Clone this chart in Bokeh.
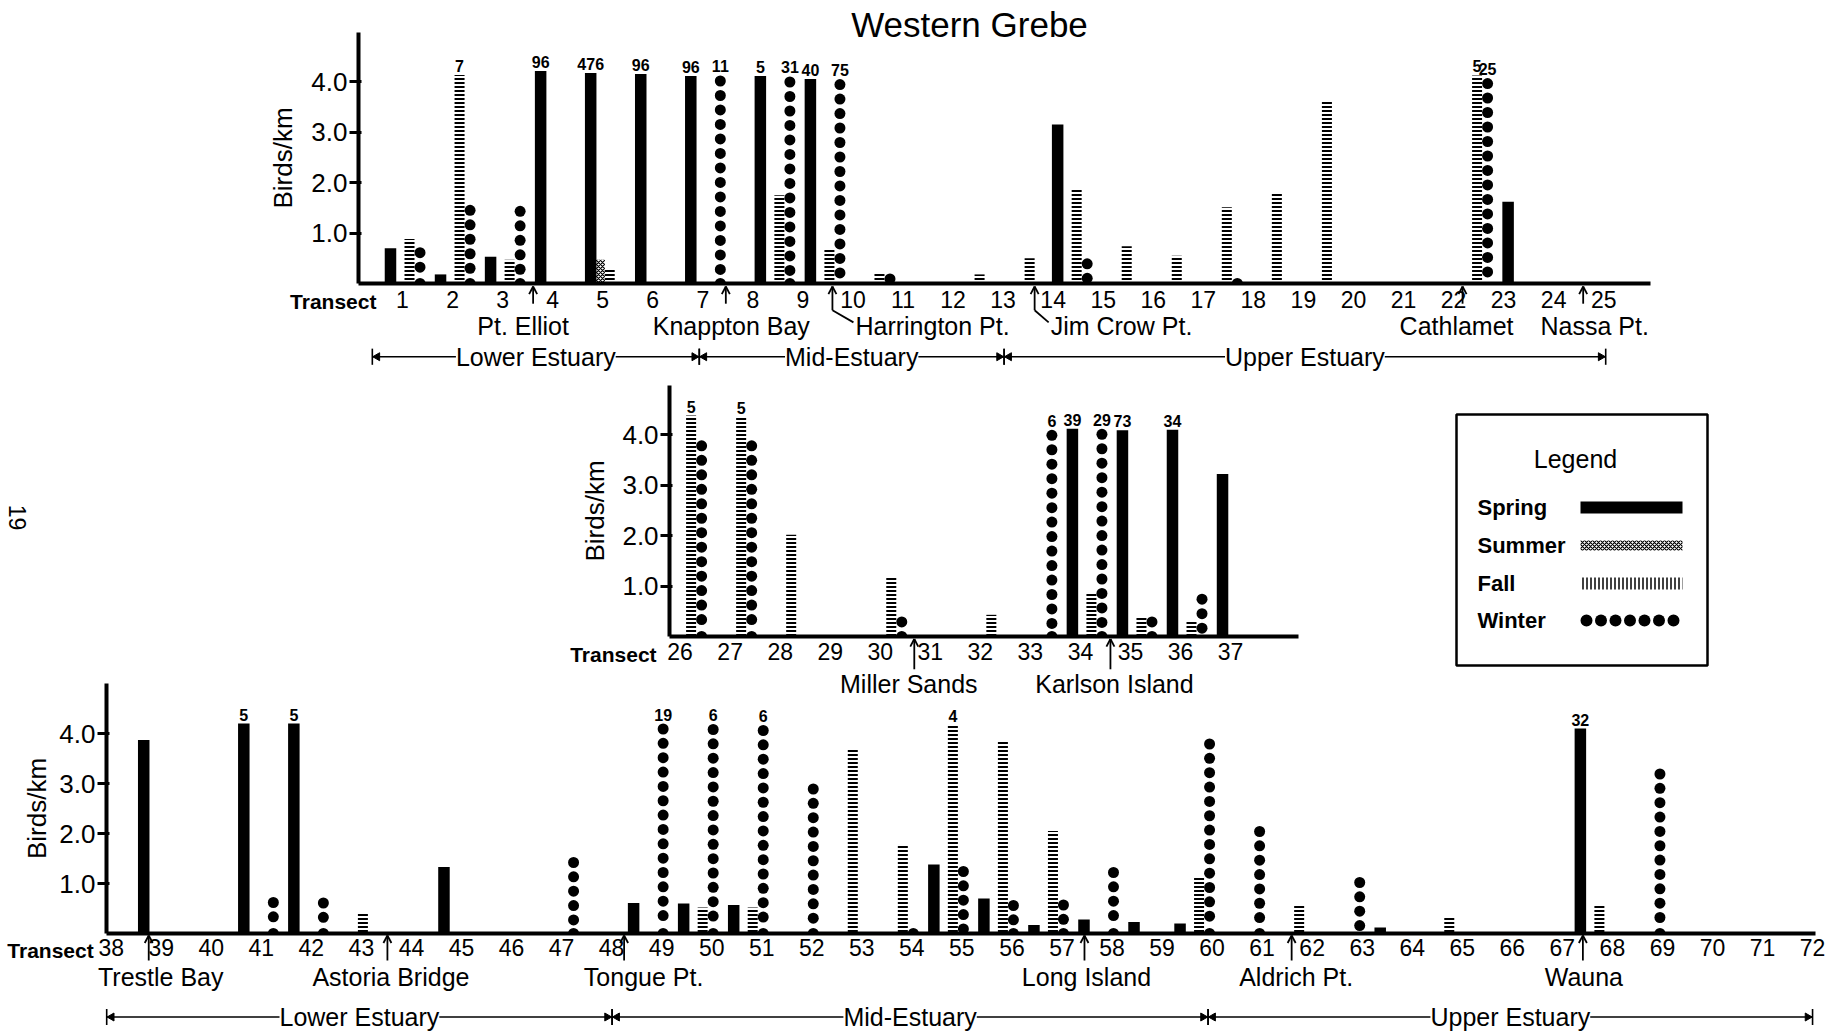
import math
from bokeh.plotting import figure
from bokeh.models import (Range1d, FixedTicker, PrintfTickFormatter, Label, LinearAxis)
from bokeh.core.properties import value
from bokeh.embed import file_html
from bokeh.resources import INLINE

W, H = 1842, 1033
FONT = "Liberation Sans"
INK = "black"

# ------------------------------------------------------------------ data
title = "Western Grebe"

top_transects = list(range(1, 26))
top_spring = [0.70, 0.18, 0.53, 4.21, 4.17, 4.15, 4.11, 4.11, 4.05, 0, 0, 0, 0, 3.15, 0, 0, 0, 0, 0, 0, 0, 0, 1.62, 0, 0]
top_summer = [0, 0, 0, 0, 0.47, 0, 0, 0, 0, 0, 0, 0, 0, 0, 0, 0, 0, 0, 0, 0, 0, 0, 0, 0, 0]
top_fall = [0.88, 4.13, 0.47, 0, 0.28, 0, 0, 1.75, 0.68, 0.22, 0, 0.18, 0.50, 1.89, 0.74, 0.55, 1.51, 1.81, 3.63, 0, 0, 4.12, 0, 0, 0]
top_winter = [0.72, 1.56, 1.54, 0, 0, 0, 4.12, 4.10, 4.05, 0.20, 0, 0, 0, 0.50, 0, 0, 0.12, 0, 0, 0, 0, 4.07, 0, 0, 0]
top_counts = [(2, "fall", "7"), (4, "spring", "96"), (5, "spring", "476"), (6, "spring", "96"),
              (7, "spring", "96"), (7, "winter", "11"), (8, "spring", "5"), (8, "winter", "31"),
              (9, "spring", "40"), (9, "winter", "75"), (22, "fall", "5"), (22, "winter", "25")]

mid_transects = list(range(26, 38))
mid_spring = [0, 0, 0, 0, 0, 0, 0, 0, 4.12, 4.09, 4.10, 3.22]
mid_summer = [0, 0, 0, 0, 0, 0, 0, 0, 0, 0, 0, 0]
mid_fall = [4.38, 4.35, 2.02, 0, 1.20, 0, 0.43, 0, 0.85, 0.40, 0.32, 0]
mid_winter = [3.89, 3.89, 0, 0, 0.40, 0, 0, 4.10, 4.12, 0.40, 0.85, 0]
mid_counts = [(26, "fall", "5"), (27, "fall", "5"), (33, "winter", "6"), (34, "spring", "39"),
              (34, "winter", "29"), (35, "spring", "73"), (36, "spring", "34")]

bot_transects = list(range(38, 73))
bot_spring = [0, 3.87, 0, 4.20, 4.20, 0, 0, 1.33, 0, 0,
              0, 0.61, 0.60, 0.57, 0, 0, 0, 1.38, 0.70, 0.17,
              0.28, 0.23, 0.20, 0, 0, 0, 0.12, 0, 0, 0,
              4.10, 0, 0, 0, 0]
bot_summer = [0] * 35
bot_fall = [0, 0, 0, 0, 0, 0.42, 0, 0, 0, 0,
            0, 0, 0.52, 0.52, 0, 3.71, 1.77, 4.17, 3.87, 2.05,
            0, 0, 1.13, 0, 0.59, 0, 0, 0.33, 0, 0,
            0.57, 0, 0, 0, 0]
bot_winter = [0, 0, 0, 0.73, 0.72, 0, 0, 0, 0, 1.53,
              0, 4.20, 4.19, 4.17, 3.00, 0, 0.13, 1.35, 0.67, 0.68,
              1.33, 0, 3.90, 2.15, 0, 1.13, 0, 0, 0, 0,
              0, 3.30, 0, 0, 0]
bot_counts = [(41, "spring", "5"), (42, "spring", "5"), (49, "winter", "19"), (50, "winter", "6"),
              (51, "winter", "6"), (55, "fall", "4"), (68, "spring", "32")]

# landmarks: (name, arrow position, label position, label alignment)
top_places = [("Pt. Elliot", 3.61, 3.41, "center"), ("Knappton Bay", 7.46, 7.57, "center"),
              ("Harrington Pt.", 9.59, 10.05, "left"), ("Jim Crow Pt.", 13.63, 13.95, "left"),
              ("Cathlamet", 22.18, 22.06, "center"), ("Nassa Pt.", 24.59, 24.82, "center")]
mid_places = [("Miller Sands", 30.68, 30.57, "center"), ("Karlson Island", 34.60, 34.68, "center")]
bot_places = [("Trestle Bay", 38.75, 38.99, "center"), ("Astoria Bridge", 43.52, 43.59, "center"),
              ("Tongue Pt.", 48.25, 48.64, "center"), ("Long Island", 57.45, 57.49, "center"),
              ("Aldrich Pt.", 61.59, 61.68, "center"), ("Wauna", 67.41, 67.43, "center")]

top_regions = [(0.397, 6.93, "Lower Estuary"), (6.93, 13.02, "Mid-Estuary"), (13.02, 25.04, "Upper Estuary")]
bot_regions = [(37.91, 48.01, "Lower Estuary"), (48.01, 59.92, "Mid-Estuary"), (59.92, 72.0, "Upper Estuary")]

legend_labels = ["Spring", "Summer", "Fall", "Winter"]

# ------------------------------------------------------------------ styling / layout
SEASON_OFFSET = {"spring": -0.38, "summer": -0.19, "fall": 0.0, "winter": 0.21}
DOT_STEP = 0.287
DOT_R = 0.11
DOT_PX = 11
# where each group of bars sits relative to its transect label, by stretch of the axis
TOP_SHIFT = [(1, 7, 0.14), (8, 13, 0.53), (14, 25, 0.47)]
MID_SHIFT = [(26, 37, 0.22)]
BOT_SHIFT = [(38, 47, 0.03), (48, 59, -0.18), (60, 72, -0.26)]

p = figure(width=W, height=H, x_range=Range1d(0, W), y_range=Range1d(H, 0),
           output_backend="svg", toolbar_location=None, x_axis_type=None, y_axis_type=None,
           min_border_left=0, min_border_right=0, min_border_top=0, min_border_bottom=0)
p.outline_line_color = None
p.background_fill_color = "white"
p.border_fill_color = "white"


def txt(xs, ys, texts, size, align="center", baseline="middle", style="normal", angle=0.0, rn=None):
    kw = {}
    if rn:
        kw = dict(x_range_name=rn[0], y_range_name=rn[1])
    return p.text(x=xs, y=ys, text=texts, text_font=value(FONT), text_font_size=size,
                  text_align=align, text_baseline=baseline, text_font_style=style,
                  text_color=INK, angle=angle, **kw)


def make_panel(name, transects, spring, summer, fall, winter, counts, shifts,
               n0, X0, ux, Y0, uy, x_lo, x_hi, y_hi, x_standoff, label_standoff):
    xr, yr = name + "_x", name + "_y"
    p.extra_x_ranges[xr] = Range1d(n0 + (0 - X0) / ux, n0 + (W - X0) / ux)
    p.extra_y_ranges[yr] = Range1d((Y0 - H) / uy, Y0 / uy)
    rn = (xr, yr)
    kw = dict(x_range_name=xr, y_range_name=yr)

    def gx(t, season):
        sh = next(s for a, b, s in shifts if a <= t <= b)
        return t + sh + SEASON_OFFSET[season]

    def pos(season, vals):
        xs = [gx(t, season) for t, v in zip(transects, vals) if v > 0]
        vs = [v for v in vals if v > 0]
        return xs, vs

    xs, vs = pos("spring", spring)
    p.vbar(x=xs, top=vs, bottom=0, width=0.23, fill_color=INK, line_color=None, **kw)
    xs, vs = pos("summer", summer)
    if xs:
        p.vbar(x=xs, top=vs, bottom=0, width=0.19, fill_color=None, line_color=None,
               hatch_pattern="diagonal_cross", hatch_color=INK, hatch_scale=4, hatch_weight=1.2, **kw)
    xs, vs = pos("fall", fall)
    p.vbar(x=xs, top=vs, bottom=0, width=0.20, fill_color=None, line_color=None,
           hatch_pattern="horizontal_line", hatch_color=INK, hatch_scale=4, hatch_weight=2, **kw)

    # winter: a column of dots reaching up to the value; the lowest one half-hidden by the baseline
    dx, dy, hx = [], [], []
    for t, v in zip(transects, winter):
        if v <= 0:
            continue
        xw = gx(t, "winter")
        c = v - DOT_R
        while c > -0.5 * DOT_R:
            if c >= 0.7 * DOT_R:
                dx.append(xw); dy.append(c)
            else:
                hx.append(xw)
                break
            c -= DOT_STEP
    p.scatter(x=dx, y=dy, marker="circle", size=DOT_PX, fill_color=INK, line_color=None, **kw)
    if hx:
        p.wedge(x=hx, y=[0] * len(hx), radius=DOT_PX / 2, radius_units="screen",
                start_angle=0, end_angle=math.pi, fill_color=INK, line_color=None, **kw)

    # count annotations above truncated bars
    series = {"spring": spring, "summer": summer, "fall": fall, "winter": winter}
    cx, cy, ct = [], [], []
    for t, season, s in counts:
        v = series[season][transects.index(t)]
        cx.append(gx(t, season))
        cy.append(v + 0.06)
        ct.append(s)
    txt(cx, cy, ct, "16px", baseline="bottom", style="bold", rn=rn)

    # axes drawn at the baseline / left edge of the panel
    xa = LinearAxis(fixed_location=0, bounds=(x_lo, x_hi), ticker=FixedTicker(ticks=transects), **kw)
    xa.axis_line_width = 4
    xa.axis_line_color = INK
    xa.major_tick_line_color = None
    xa.minor_tick_line_color = None
    xa.major_tick_out = 0
    xa.major_tick_in = 0
    xa.major_label_text_font = FONT
    xa.major_label_text_font_size = "23px"
    xa.major_label_text_color = INK
    xa.major_label_standoff = x_standoff
    p.add_layout(xa, "below")

    ya = LinearAxis(fixed_location=x_lo, bounds=(0, y_hi), ticker=FixedTicker(ticks=[1, 2, 3, 4]),
                    formatter=PrintfTickFormatter(format="%.1f"), axis_label="Birds/km", **kw)
    ya.axis_line_width = 4
    ya.axis_line_color = INK
    ya.major_tick_line_width = 3
    ya.major_tick_line_color = INK
    ya.major_tick_out = 9
    ya.major_tick_in = 3
    ya.minor_tick_line_color = None
    ya.major_label_text_font = FONT
    ya.major_label_text_font_size = "26px"
    ya.major_label_text_color = INK
    ya.major_label_standoff = 2
    ya.axis_label_text_font = FONT
    ya.axis_label_text_font_size = "26px"
    ya.axis_label_text_font_style = "normal"
    ya.axis_label_text_color = INK
    ya.axis_label_standoff = label_standoff
    p.add_layout(ya, "left")
    return rn


def draw_places(rn, places, tip, stem_bottom, label_y, bent_bottom=None, bent_end_y=None):
    x0, y0, x1, y1 = [], [], [], []
    for name, ax, lx, align in places:
        if align == "left":
            x0 += [ax, ax]
            y0 += [tip, bent_bottom]
            x1 += [ax, lx - 0.04]
            y1 += [bent_bottom, bent_end_y]
        else:
            x0.append(ax); y0.append(tip); x1.append(ax); y1.append(stem_bottom)
        x0 += [ax, ax]; y0 += [tip, tip]
        x1 += [ax - 0.08, ax + 0.08]; y1 += [tip - 0.15, tip - 0.15]
    p.segment(x0=x0, y0=y0, x1=x1, y1=y1, line_color=INK, line_width=1.8,
              x_range_name=rn[0], y_range_name=rn[1])
    for align in ("center", "left"):
        sel = [pl for pl in places if pl[3] == align]
        if sel:
            txt([pl[2] for pl in sel], [label_y] * len(sel), [pl[0] for pl in sel],
                "25px", align=align, rn=rn)


def draw_regions(rn, regions, y):
    x0, y0, x1, y1 = [], [], [], []
    tri_x, tri_a = [], []
    for a, b, name in regions:
        x0 += [a, a, b]; y0 += [y, y - 0.16, y - 0.16]
        x1 += [b, a, b]; y1 += [y, y + 0.16, y + 0.16]
        tri_x += [a + 0.1, b - 0.1]
        tri_a += [math.pi / 2, -math.pi / 2]
    p.segment(x0=x0, y0=y0, x1=x1, y1=y1, line_color=INK, line_width=1.6,
              x_range_name=rn[0], y_range_name=rn[1])
    p.scatter(x=tri_x, y=[y] * len(tri_x), angle=tri_a, marker="triangle", size=8,
              fill_color=INK, line_color=INK, x_range_name=rn[0], y_range_name=rn[1])
    for a, b, name in regions:
        p.add_layout(Label(x=(a + b) / 2, y=y, text=name, text_align="center", text_baseline="middle",
                           text_font=FONT, text_font_size="25px", text_color=INK,
                           background_fill_color="white",
                           x_range_name=rn[0], y_range_name=rn[1]))


# ------------------------------------------------------------------ panels
rn_top = make_panel("top", top_transects, top_spring, top_summer, top_fall, top_winter, top_counts,
                    TOP_SHIFT, n0=1, X0=402, ux=50.05, Y0=283, uy=50.5,
                    x_lo=0.121, x_hi=25.935, y_hi=4.97, x_standoff=7, label_standoff=10)
txt([0.48], [-0.36], ["Transect"], "21px", align="right", style="bold", rn=rn_top)
draw_places(rn_top, top_places, tip=-0.06, stem_bottom=-0.40, label_y=-0.84,
            bent_bottom=-0.53, bent_end_y=-0.77)
draw_regions(rn_top, top_regions, -1.45)

rn_mid = make_panel("mid", mid_transects, mid_spring, mid_summer, mid_fall, mid_winter, mid_counts,
                    MID_SHIFT, n0=26, X0=679.6, ux=50.04, Y0=636, uy=50.43,
                    x_lo=25.79, x_hi=38.36, y_hi=4.977, x_standoff=6, label_standoff=9)
txt([25.53], [-0.36], ["Transect"], "21px", align="right", style="bold", rn=rn_mid)
draw_places(rn_mid, mid_places, tip=-0.05, stem_bottom=-0.65, label_y=-0.95)

rn_bot = make_panel("bot", bot_transects, bot_spring, bot_summer, bot_fall, bot_winter, bot_counts,
                    BOT_SHIFT, n0=38, X0=110.7, ux=50.04, Y0=933, uy=50.0,
                    x_lo=37.906, x_hi=72.06, y_hi=5.0, x_standoff=5, label_standoff=4)
txt([37.65], [-0.33], ["Transect"], "21px", align="right", style="bold", rn=rn_bot)
draw_places(rn_bot, bot_places, tip=-0.04, stem_bottom=-0.54, label_y=-0.87)
draw_regions(rn_bot, bot_regions, -1.67)

# ------------------------------------------------------------------ page items: title, page number, legend
txt([969], [23.5], [title], "35px")
txt([17], [517], ["19"], "23px", angle=-math.pi / 2)

p.quad(left=[1456], right=[1707], top=[414], bottom=[665], fill_color=None,
       line_color=INK, line_width=2.5)
txt([1575], [458], ["Legend"], "25px")
txt([1477] * 4, [507, 545, 583, 620], legend_labels, "22px", align="left", style="bold")
p.quad(left=[1580], right=[1682], top=[501], bottom=[513], fill_color=INK, line_color=None)
p.quad(left=[1580], right=[1682], top=[540], bottom=[550], fill_color=None, line_color=None,
       hatch_pattern="diagonal_cross", hatch_color=INK, hatch_scale=4, hatch_weight=1.2)
p.quad(left=[1580], right=[1682], top=[577], bottom=[589], fill_color=None, line_color=None,
       hatch_pattern="vertical_line", hatch_color=INK, hatch_scale=4, hatch_weight=1.5)
p.scatter(x=[1586 + 14.5 * i for i in range(7)], y=[620] * 7, marker="circle", size=12,
          fill_color=INK, line_color=None)

open("out.html", "w").write(file_html(p, INLINE))
